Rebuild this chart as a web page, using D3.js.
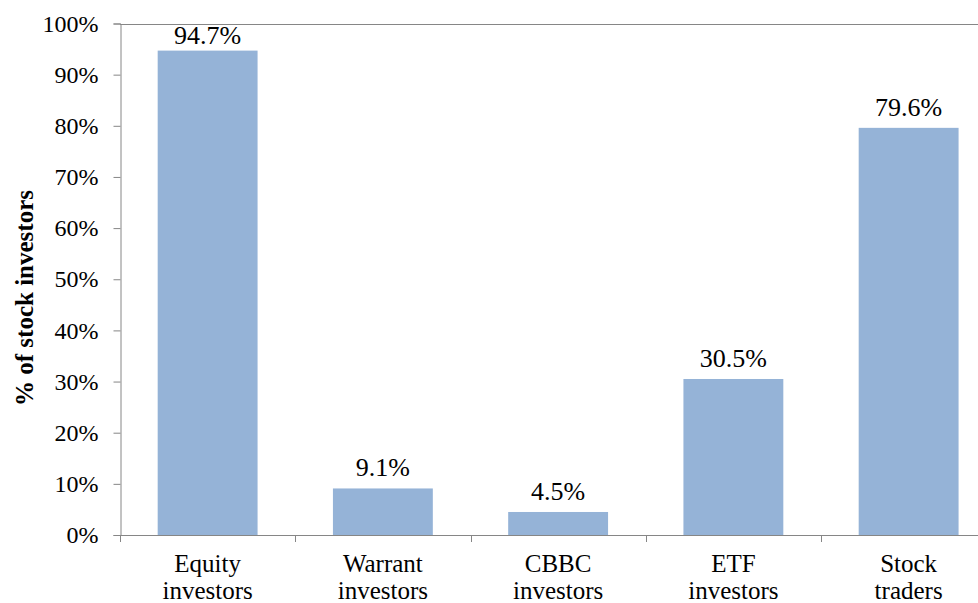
<!DOCTYPE html>
<html>
<head>
<meta charset="utf-8">
<script src="https://cdn.jsdelivr.net/npm/d3@7"></script>
<style>
  body { margin: 0; background: white; }
</style>
</head>
<body>
<svg></svg>
<script>
const categories = [["Equity", "investors"], ["Warrant", "investors"], ["CBBC", "investors"], ["ETF", "investors"], ["Stock", "traders"]];
const values = [0.947, 0.091, 0.045, 0.305, 0.796];
const valueLabels = ["94.7%", "9.1%", "4.5%", "30.5%", "79.6%"];
const yTicks = [0, 0.1, 0.2, 0.3, 0.4, 0.5, 0.6, 0.7, 0.8, 0.9, 1.0];

const width = 978, height = 603;
const plotLeft = 120, plotTop = 23.5, plotBottom = 535;
const band = 175.25;
const serif = '"Liberation Serif", serif';

const svg = d3.select('svg').attr('width', width).attr('height', height);

const x = d3.scaleBand()
  .domain(d3.range(categories.length))
  .range([plotLeft, plotLeft + band * categories.length])
  .paddingInner(0.43)
  .paddingOuter(0.215);

const y = d3.scaleLinear().domain([0, 1]).range([plotBottom, plotTop]);

// top line of the plot
svg.append('line')
  .attr('x1', plotLeft).attr('x2', width)
  .attr('y1', Math.round(y(1)) + 0.5).attr('y2', Math.round(y(1)) + 0.5)
  .style('stroke', '#868686').style('stroke-width', 1);

// bars
svg.selectAll('rect.bar')
  .data(values)
  .enter().append('rect')
  .attr('class', 'bar')
  .attr('x', (d, i) => x(i))
  .attr('y', d => y(d))
  .attr('width', x.bandwidth())
  .attr('height', d => plotBottom - y(d))
  .style('fill', '#95b3d7');

// value labels (the tallest one is pushed down to stay inside the plot)
svg.selectAll('text.val')
  .data(values)
  .enter().append('text')
  .attr('class', 'val')
  .attr('x', (d, i) => x(i) + x.bandwidth() / 2)
  .attr('y', d => Math.max(y(d) - 12, 44))
  .attr('text-anchor', 'middle')
  .style('font-family', serif)
  .style('font-size', '26px')
  .style('fill', 'black')
  .text((d, i) => valueLabels[i]);

// y axis
const yAxis = d3.axisLeft(y)
  .tickValues(yTicks)
  .tickFormat(d3.format('.0%'))
  .tickSize(7)
  .tickPadding(15);
const gy = svg.append('g').attr('transform', `translate(${plotLeft + 0.5},0)`).call(yAxis);
gy.attr('font-family', null);
gy.select('.domain').style('stroke', '#868686');
gy.selectAll('.tick line').style('stroke', '#868686');
gy.selectAll('.tick text')
  .style('font-size', '24px')
  .style('font-family', serif)
  .style('fill', 'black');

// x axis line with ticks between categories
svg.append('line')
  .attr('x1', plotLeft).attr('x2', width)
  .attr('y1', plotBottom + 0.5).attr('y2', plotBottom + 0.5)
  .style('stroke', '#868686');
svg.selectAll('line.xtick')
  .data(d3.range(categories.length + 1))
  .enter().append('line')
  .attr('class', 'xtick')
  .attr('x1', i => Math.round(plotLeft + i * band) + 0.5)
  .attr('x2', i => Math.round(plotLeft + i * band) + 0.5)
  .attr('y1', plotBottom)
  .attr('y2', plotBottom + 7)
  .style('stroke', '#868686');

// category labels
const cat = svg.selectAll('text.cat')
  .data(categories)
  .enter().append('text')
  .attr('class', 'cat')
  .attr('text-anchor', 'middle')
  .style('font-family', serif)
  .style('font-size', '25px')
  .style('fill', 'black');
cat.append('tspan')
  .attr('x', (d, i) => x(i) + x.bandwidth() / 2)
  .attr('y', 572)
  .text(d => d[0]);
cat.append('tspan')
  .attr('x', (d, i) => x(i) + x.bandwidth() / 2)
  .attr('y', 599)
  .text(d => d[1]);

// y title
svg.append('text')
  .attr('transform', 'translate(33,298) rotate(-90)')
  .attr('text-anchor', 'middle')
  .style('font-family', serif)
  .style('font-size', '25px')
  .style('font-weight', 'bold')
  .style('fill', 'black')
  .text('% of stock investors');
</script>
</body>
</html>
